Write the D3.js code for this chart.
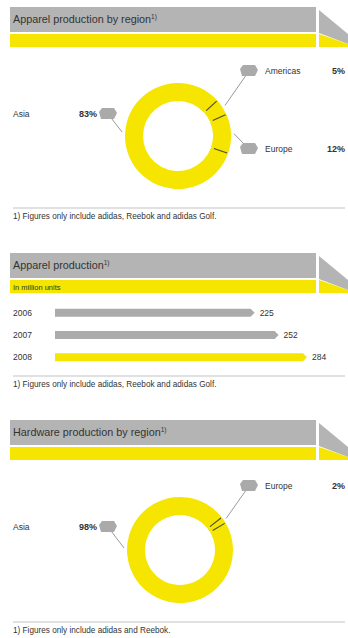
<!DOCTYPE html>
<html>
<head>
<meta charset="utf-8">
<script src="https://cdn.jsdelivr.net/npm/d3@7"></script>
<style>
  html, body { margin: 0; padding: 0; background: #fff; }
  svg { display: block; }
  text { font-family: "Liberation Sans", Arial, sans-serif; fill: #333; }
</style>
</head>
<body>
<svg id="chart" width="348" height="638"></svg>
<script>
// Apparel production by region (share of units)
const apparelRegions = ["Americas", "Europe", "Asia"];
const apparelShares = [5, 12, 83];

// Apparel production (million units)
const productionYears = ["2006", "2007", "2008"];
const productionUnits = [225, 252, 284];

// Hardware production by region (share of units)
const hardwareRegions = ["Europe", "Asia"];
const hardwareShares = [2, 98];

const titles = ["Apparel production by region", "Apparel production", "Hardware production by region"];
const unitNote = "In million units";
const footnotes = [
  "1) Figures only include adidas, Reebok and adidas Golf.",
  "1) Figures only include adidas, Reebok and adidas Golf.",
  "1) Figures only include adidas and Reebok."
];

const GRAY = "#b4b4b4", YELLOW = "#f5e500", BARGRAY = "#ababab";
const svg = d3.select("#chart");

// Section header: grey title band, yellow band, and folded ribbon end
function header(y0, title, sub) {
  const g = svg.append("g");
  g.append("rect").attr("x", 10).attr("y", y0).attr("width", 306).attr("height", 25).attr("fill", GRAY);
  g.append("rect").attr("x", 10).attr("y", y0 + 27).attr("width", 306).attr("height", 13).attr("fill", YELLOW);
  g.append("polygon").attr("fill", GRAY)
    .attr("points", [[319, y0 + 3], [348, y0 + 27], [348, y0 + 37], [319, y0 + 26]].join(" "));
  g.append("polygon").attr("fill", YELLOW)
    .attr("points", [[319, y0 + 27], [348, y0 + 37], [348, y0 + 40], [319, y0 + 40]].join(" "));
  const t = g.append("text").attr("x", 13).attr("y", y0 + 16).attr("font-size", 10.8);
  t.append("tspan").text(title);
  t.append("tspan").attr("font-size", 6.5).attr("dy", -4).text("1)");
  if (sub) {
    g.append("text").attr("x", 13).attr("y", y0 + 37).attr("font-size", 7.5).text(sub);
  }
}

function footnote(y, text) {
  svg.append("line").attr("x1", 13).attr("x2", 345).attr("y1", y).attr("y2", y)
    .attr("stroke", "#c4c4c4").attr("stroke-width", 1.2);
  svg.append("text").attr("x", 13).attr("y", y + 11).attr("font-size", 8.2).text(text);
}

// Grey speech-bubble marker linking a label to the ring
function callout(g, bx, by, ax, ay) {
  g.append("line").attr("x1", bx).attr("y1", by).attr("x2", ax).attr("y2", ay)
    .attr("stroke", "#9a9a9a").attr("stroke-width", 1);
  g.append("polygon").attr("fill", "#aaaaaa")
    .attr("points", [[-9, -2], [-6, -6], [6, -6], [9, -1], [6, 5], [-7, 5]]
      .map(p => [bx + p[0], by + p[1]]).join(" "));
}

function donut(cx, cy, regions, shares, startDeg, anchors) {
  const g = svg.append("g").attr("transform", `translate(${cx},${cy})`);
  const rOut = 53, rIn = 35;
  const pie = d3.pie().sort(null)
    .startAngle(startDeg * Math.PI / 180)
    .endAngle(startDeg * Math.PI / 180 + 2 * Math.PI);
  const arcs = pie(shares);
  const arc = d3.arc().innerRadius(rIn).outerRadius(rOut);
  g.selectAll("path.slice").data(arcs).join("path")
    .attr("class", "slice").attr("d", arc).attr("fill", YELLOW);
  // dark dividers at slice boundaries
  arcs.forEach(a => {
    const ang = a.startAngle;
    g.append("line")
      .attr("x1", (rIn + 3) * Math.sin(ang)).attr("y1", -(rIn + 3) * Math.cos(ang))
      .attr("x2", (rOut - 1) * Math.sin(ang)).attr("y2", -(rOut - 1) * Math.cos(ang))
      .attr("stroke", "#4a4a2a").attr("stroke-width", 1.1);
  });
  // labels
  const lg = svg.append("g");
  arcs.forEach((a, i) => {
    const an = anchors[i];
    const right = an.side === "right";
    const ang = an.deg != null ? an.deg * Math.PI / 180 : (a.startAngle + a.endAngle) / 2;
    const ax = cx + (rOut + 3) * Math.sin(ang), ay = cy - (rOut + 3) * Math.cos(ang);
    const bx = right ? 249 : 108;
    callout(lg, bx, an.y, ax, ay);
    lg.append("text").attr("x", right ? 265 : 13).attr("y", an.y + 3)
      .attr("font-size", 8.5).text(regions[i]);
    lg.append("text").attr("x", right ? 345 : 97).attr("y", an.y + 3)
      .attr("text-anchor", "end").attr("font-size", 9).attr("font-weight", "bold")
      .attr("fill", "#444").text(shares[i] + "%");
  });
}

// ---- Section 1
header(7, titles[0]);
donut(178, 136, apparelRegions, apparelShares, 48,
  [{ side: "right", y: 71 }, { side: "right", y: 149 }, { side: "left", y: 114, deg: 274 }]);
footnote(208, footnotes[0]);

// ---- Section 2: horizontal arrow bars
header(253, titles[1], unitNote);
const x = d3.scaleLinear().domain([0, d3.max(productionUnits)]).range([55, 307]);
const y = d3.scaleBand().domain(productionYears).range([302, 368])
  .paddingInner(0.64).paddingOuter(0.3);
const bars = svg.append("g");
productionYears.forEach((yr, i) => {
  const v = productionUnits[i];
  const top = y(yr), h = y.bandwidth(), xe = x(v);
  const fill = i === productionYears.length - 1 ? YELLOW : BARGRAY;
  bars.append("path")
    .attr("d", `M${x(0)},${top} L${xe - 4},${top} L${xe},${top + h / 2} L${xe - 4},${top + h} L${x(0)},${top + h} Z`)
    .attr("fill", fill);
  bars.append("text").attr("x", 13).attr("y", top + h / 2 + 3).attr("font-size", 8.5).text(yr);
  bars.append("text").attr("x", xe + 5).attr("y", top + h / 2 + 3).attr("font-size", 8.5).text(v);
});
footnote(376, footnotes[1]);

// ---- Section 3
header(420, titles[2]);
donut(180, 550, hardwareRegions, hardwareShares, 52,
  [{ side: "right", y: 486 }, { side: "left", y: 527, deg: 272 }]);
footnote(622, footnotes[2]);
</script>
</body>
</html>
